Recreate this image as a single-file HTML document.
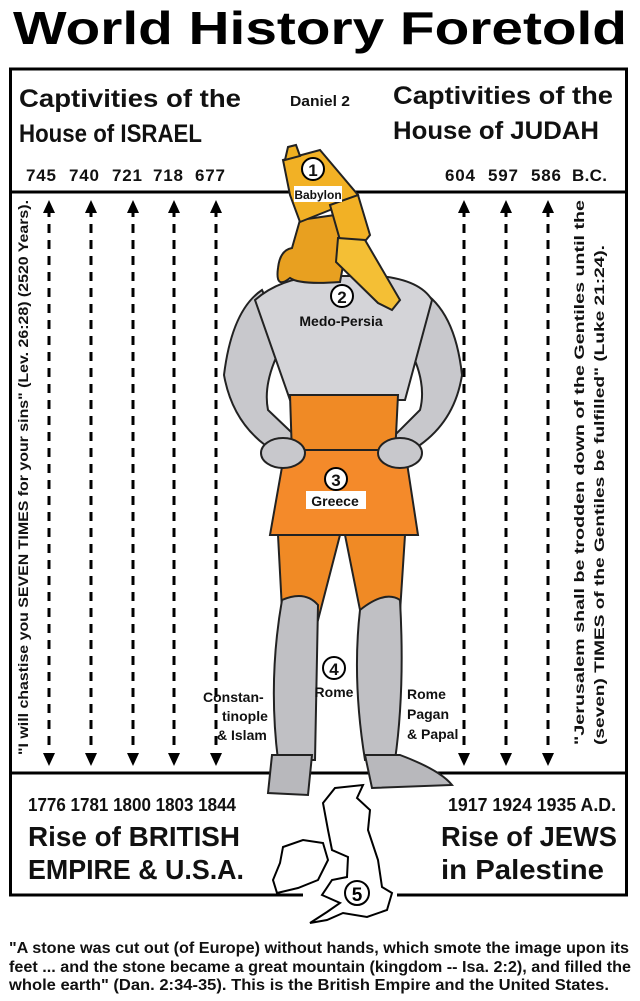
<!DOCTYPE html>
<html><head><meta charset="utf-8"><style>
html,body{margin:0;padding:0;background:#fff;}
svg{display:block;font-family:"Liberation Sans",Arial,sans-serif;}
</style></head><body>
<svg width="640" height="1001" viewBox="0 0 640 1001" xmlns="http://www.w3.org/2000/svg">
<text x="320" y="44" text-anchor="middle" font-size="46" font-weight="bold" fill="#000" textLength="614" lengthAdjust="spacingAndGlyphs">World History Foretold</text>
<!-- main box -->
<path d="M303,895 L10.5,895 L10.5,69 L626.5,69 L626.5,895 L397,895" fill="#fff" stroke="#000" stroke-width="3"/>
<line x1="10" y1="192" x2="627" y2="192" stroke="#000" stroke-width="3"/>
<line x1="10" y1="773" x2="627" y2="773" stroke="#000" stroke-width="3"/>
<!-- header texts -->
<g font-weight="bold" font-size="25" fill="#111">
<text x="19" y="107" textLength="222" lengthAdjust="spacingAndGlyphs">Captivities of the</text>
<text x="19" y="142" textLength="183" lengthAdjust="spacingAndGlyphs">House of ISRAEL</text>
<text x="393" y="104" textLength="220" lengthAdjust="spacingAndGlyphs">Captivities of the</text>
<text x="393" y="139" textLength="206" lengthAdjust="spacingAndGlyphs">House of JUDAH</text>
</g>
<text x="290" y="106" font-size="15" font-weight="bold" fill="#111" textLength="60" lengthAdjust="spacingAndGlyphs">Daniel 2</text>
<g font-weight="bold" font-size="17" fill="#111" lengthAdjust="spacingAndGlyphs">
<text x="26" y="181" textLength="30">745</text><text x="69" y="181" textLength="30">740</text><text x="112" y="181" textLength="30">721</text><text x="153" y="181" textLength="30">718</text><text x="195" y="181" textLength="30">677</text>
<text x="445" y="181" textLength="30">604</text><text x="488" y="181" textLength="30">597</text><text x="531" y="181" textLength="30">586</text><text x="572" y="181" textLength="35">B.C.</text>
</g>
<!-- arrows -->
<g stroke="#000" stroke-width="3" stroke-dasharray="9,7">
<line x1="49" y1="208" x2="49" y2="748"/><line x1="91" y1="208" x2="91" y2="748"/><line x1="133" y1="208" x2="133" y2="748"/><line x1="174" y1="208" x2="174" y2="748"/><line x1="216" y1="208" x2="216" y2="748"/>
<line x1="464" y1="208" x2="464" y2="748"/><line x1="506" y1="208" x2="506" y2="748"/><line x1="548" y1="208" x2="548" y2="748"/>
</g>
<g fill="#000">
<path d="M43,213 L49,200 L55,213Z"/><path d="M85,213 L91,200 L97,213Z"/><path d="M127,213 L133,200 L139,213Z"/><path d="M168,213 L174,200 L180,213Z"/><path d="M210,213 L216,200 L222,213Z"/>
<path d="M458,213 L464,200 L470,213Z"/><path d="M500,213 L506,200 L512,213Z"/><path d="M542,213 L548,200 L554,213Z"/>
<path d="M43,753 L49,766 L55,753Z"/><path d="M85,753 L91,766 L97,753Z"/><path d="M127,753 L133,766 L139,753Z"/><path d="M168,753 L174,766 L180,753Z"/><path d="M210,753 L216,766 L222,753Z"/>
<path d="M458,753 L464,766 L470,753Z"/><path d="M500,753 L506,766 L512,753Z"/><path d="M542,753 L548,766 L554,753Z"/>
</g>
<!-- vertical quotes -->
<text transform="translate(28,755) rotate(-90)" font-size="14" font-weight="bold" fill="#111" textLength="555" lengthAdjust="spacingAndGlyphs">"I will chastise you SEVEN TIMES for your sins" (Lev. 26:28) (2520 Years).</text>
<text transform="translate(584,745) rotate(-90)" font-size="14" font-weight="bold" fill="#111" textLength="545" lengthAdjust="spacingAndGlyphs">"Jerusalem shall be trodden down of the Gentiles until the</text>
<text transform="translate(604,745) rotate(-90)" font-size="14" font-weight="bold" fill="#111" textLength="500" lengthAdjust="spacingAndGlyphs">(seven) TIMES of the Gentiles  be fulfilled" (Luke 21:24).</text>
<!-- figure -->
<g stroke="#222" stroke-width="2">
<!-- arms -->
<path d="M262,290 Q232,310 224,375 Q232,420 265,445 L300,470 L310,450 L268,410 Q262,380 285,340 Z" fill="#c8c8cc"/>
<path d="M420,290 Q455,310 462,375 Q455,420 420,445 L390,470 L380,450 L420,410 Q428,380 405,340 Z" fill="#c8c8cc"/>
<!-- torso -->
<path d="M255,300 Q280,278 320,276 L380,276 Q420,280 432,300 L405,400 L290,400 Z" fill="#d4d4d8"/>
<path d="M290,395 L398,395 L395,455 L292,455 Z" fill="#f08a25"/>
<!-- skirt -->
<path d="M285,450 L405,450 L418,535 L270,535 Z" fill="#f48a2a"/>
<!-- thighs -->
<path d="M278,535 L340,535 L318,620 L282,610 Z" fill="#f08a25"/>
<path d="M345,535 L405,535 L400,612 L362,620 Z" fill="#f08a25"/>
<!-- legs -->
<path d="M282,600 Q305,590 318,605 L315,760 L278,760 Q268,680 282,600Z" fill="#c0c0c4"/>
<path d="M360,610 Q385,590 400,600 Q405,690 395,760 L365,760 Q352,680 360,610Z" fill="#c0c0c4"/>
<!-- feet -->
<path d="M272,755 L312,755 L308,795 L268,793 Z" fill="#b8b8bc"/>
<path d="M365,755 L400,755 Q440,770 452,785 L372,788 Z" fill="#b8b8bc"/>
<!-- head: hair -->
<path d="M300,220 L335,215 L345,255 L340,282 Q300,285 290,278 Q275,290 278,268 Q280,250 292,248 Z" fill="#e8a020"/>
<!-- hat -->
<path d="M283,160 L320,150 L358,195 L330,210 L300,222 L290,195 Z" fill="#f2b125"/>
<path d="M285,160 L288,147 L296,145 L300,156 Z" fill="#f0b020"/>
<!-- face -->
<path d="M330,205 L358,195 L370,235 L362,245 L340,240 Z" fill="#f2b125"/>
<!-- beard -->
<path d="M338,238 L365,240 L400,300 L392,310 L378,303 L336,262 Z" fill="#f4bf35"/>
</g>
<!-- hands -->
<g fill="#c8c8cc" stroke="#222" stroke-width="2">
<ellipse cx="283" cy="453" rx="22" ry="15"/>
<ellipse cx="400" cy="453" rx="22" ry="15"/>
</g>
<!-- labels -->
<g font-weight="bold" fill="#111">
<circle cx="313" cy="169" r="11" fill="#fff" stroke="#000" stroke-width="2"/><text x="313" y="176" font-size="17" text-anchor="middle">1</text>
<rect x="294" y="186" width="48" height="16" fill="#fff"/><text x="318" y="199" font-size="12" text-anchor="middle">Babylon</text>
<circle cx="342" cy="296" r="11" fill="#fff" stroke="#000" stroke-width="2"/><text x="342" y="303" font-size="17" text-anchor="middle">2</text>
<text x="341" y="326" font-size="14" text-anchor="middle">Medo-Persia</text>
<circle cx="336" cy="479" r="11" fill="#fff" stroke="#000" stroke-width="2"/><text x="336" y="486" font-size="17" text-anchor="middle">3</text>
<rect x="306" y="491" width="60" height="18" fill="#fff"/><text x="335" y="506" font-size="14" text-anchor="middle">Greece</text>
<circle cx="334" cy="668" r="11" fill="#fff" stroke="#000" stroke-width="2"/><text x="334" y="675" font-size="17" text-anchor="middle">4</text>
<text x="334" y="697" font-size="14" text-anchor="middle">Rome</text>
<g font-size="14"><text x="203" y="702">Constan-</text><text x="222" y="721">tinople</text><text x="217" y="740">&amp; Islam</text>
<text x="407" y="699">Rome</text><text x="407" y="719">Pagan</text><text x="407" y="739">&amp; Papal</text></g>
</g>
<!-- UK map -->
<path d="M335,788 L363,785 L357,798 L370,810 L368,830 L378,860 L382,887 L392,893 L387,910 L367,917 L343,913 L327,920 L310,923 L327,912 L340,903 L322,895 L332,880 L347,877 L348,857 L332,850 L328,830 L323,803 Z" fill="#fff" stroke="#000" stroke-width="2"/>
<path d="M283,847 L303,840 L323,843 L328,860 L318,880 L298,888 L277,893 L273,880 L280,863 Z" fill="#fff" stroke="#000" stroke-width="2"/>
<circle cx="357" cy="893" r="12" fill="#fff" stroke="#000" stroke-width="2"/><text x="357" y="901" font-size="19" font-weight="bold" text-anchor="middle">5</text>
<!-- bottom texts -->
<g font-weight="bold" fill="#111">
<text x="28" y="811" font-size="18" textLength="208" lengthAdjust="spacingAndGlyphs">1776 1781 1800 1803 1844</text>
<text x="448" y="811" font-size="18" textLength="168" lengthAdjust="spacingAndGlyphs">1917  1924 1935  A.D.</text>
<text x="28" y="846" font-size="28" textLength="212" lengthAdjust="spacingAndGlyphs">Rise of BRITISH</text>
<text x="28" y="879" font-size="28" textLength="216" lengthAdjust="spacingAndGlyphs">EMPIRE &amp; U.S.A.</text>
<text x="441" y="846" font-size="28" textLength="176" lengthAdjust="spacingAndGlyphs">Rise of JEWS</text>
<text x="441" y="879" font-size="28" textLength="163" lengthAdjust="spacingAndGlyphs">in Palestine</text>
</g>
<g font-size="15.5" font-weight="bold" fill="#111">
<text x="9" y="953" textLength="620" lengthAdjust="spacingAndGlyphs">"A stone was cut out (of Europe) without hands, which smote the image upon its</text>
<text x="9" y="972" textLength="622" lengthAdjust="spacingAndGlyphs">feet ... and the stone became a great mountain (kingdom -- Isa. 2:2), and filled the</text>
<text x="9" y="990" textLength="600" lengthAdjust="spacingAndGlyphs">whole earth" (Dan. 2:34-35).  This is the British Empire and the United States.</text>
</g>
</svg>
</body></html>
